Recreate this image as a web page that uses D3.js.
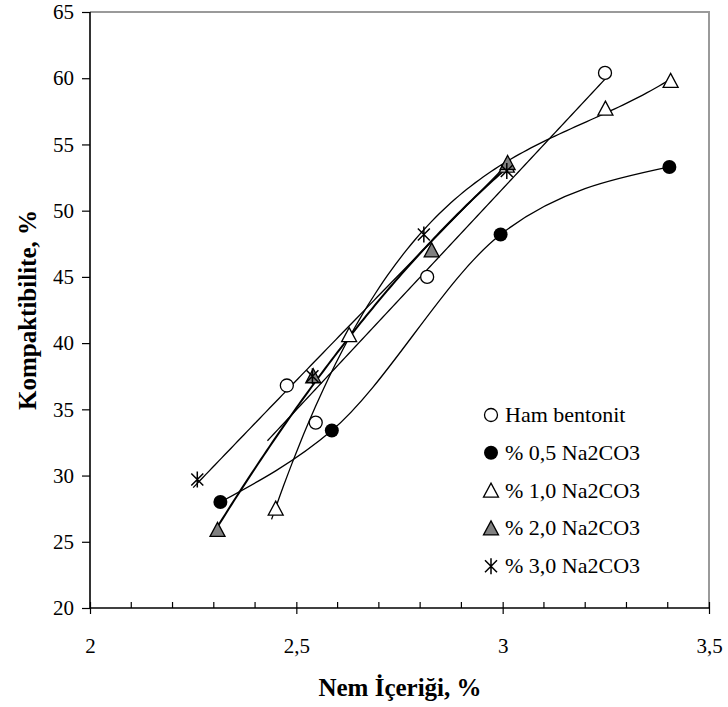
<!DOCTYPE html>
<html lang="tr">
  <head>
    <meta charset="utf-8">
    <title>Kompaktibilite</title>
    <style>
    body { margin: 0; background: #fff; }
    svg text { font-family: "Liberation Serif", "Times New Roman", Times, serif; }
    </style>
    <script src="https://cdn.jsdelivr.net/npm/d3@7"></script>
  </head>
  <body>
    <script>

      // Veri
      var hamX = [2.477, 2.547, 2.817, 3.248];
      var hamY = [36.8, 34.0, 45.0, 60.4];

      var na05X = [2.316, 2.586, 2.995, 3.404];
      var na05Y = [28.0, 33.4, 48.2, 53.3];

      var na10X = [2.450, 2.628, 3.010, 3.249, 3.407];
      var na10Y = [27.5, 40.6, 53.4, 57.7, 59.8];

      var na20X = [2.309, 2.541, 2.828, 3.012];
      var na20Y = [25.9, 37.5, 47.0, 53.6];

      var na30X = [2.260, 2.539, 2.809, 3.010];
      var na30Y = [29.7, 37.5, 48.2, 53.0];

      var seriesNames = ["Ham bentonit", "% 0,5 Na2CO3", "% 1,0 Na2CO3", "% 2,0 Na2CO3", "% 3,0 Na2CO3"];
      // çizgi türü: polinom derecesi (0 = noktalardan geçen yumuşak eğri) ve x aralığı
      var trendDegree = [1, 0, 3, 2, 2];
      var trendFrom = [2.43, 2.316, 2.44, 2.30, 2.25];
      var trendTo = [3.25, 3.404, 3.407, 3.012, 3.02];

      var xTicks = [2, 2.5, 3, 3.5];
      var yTicks = [20, 25, 30, 35, 40, 45, 50, 55, 60, 65];

      var W = 728, H = 707;
      var m = { left: 90, right: 709, top: 12, bottom: 608 };
      var serif = "Liberation Serif, Times New Roman, Times, serif";

      var svg = d3.select("body").append("svg")
          .attr("width", W)
          .attr("height", H);

      var x = d3.scaleLinear().domain([2, 3.5]).range([m.left, m.right]);
      var y = d3.scaleLinear().domain([20, 65]).range([m.bottom, m.top]);

      var fmt = function(d) { return String(d).replace(".", ","); };

      // çerçeve (üst ve sağ gri)
      svg.append("path")
          .attr("d", "M" + m.left + "," + m.top + "H" + m.right + "V" + m.bottom)
          .attr("fill", "none")
          .attr("stroke", "#9a9a9a")
          .attr("stroke-width", 2);

      // y ekseni
      var gy = svg.append("g")
          .attr("transform", "translate(" + m.left + ",0)")
          .call(d3.axisLeft(y).tickValues(yTicks).tickSize(8).tickPadding(8).tickFormat(d3.format("d")));

      // x ekseni: ana ve ara çentikler
      var gx = svg.append("g")
          .attr("transform", "translate(0," + m.bottom + ")")
          .call(d3.axisBottom(x).tickValues(xTicks).tickSize(6).tickPadding(24).tickFormat(fmt));
      gx.selectAll(".tick line").attr("y1", -6);

      var minor = d3.range(2.1, 3.5, 0.1).filter(function(v) {
        return Math.abs(v * 2 - Math.round(v * 2)) > 0.01;
      });
      gx.selectAll("line.minor")
        .data(minor)
        .enter()
        .append("line")
        .attr("class", "minor")
        .attr("x1", function(d) { return x(d); })
        .attr("x2", function(d) { return x(d); })
        .attr("y1", 0)
        .attr("y2", -6)
        .attr("stroke", "#000");

      [gx, gy].forEach(function(g) {
        g.select(".domain").attr("stroke-width", 1.6);
        g.selectAll("line").attr("stroke-width", 1.2);
        g.selectAll(".tick text")
          .attr("font-family", serif)
          .attr("font-size", 21)
          .attr("fill", "#000");
      });
      gy.select(".domain").attr("d", "M0," + m.bottom + "V" + m.top);
      gx.select(".domain").attr("d", "M" + m.left + ",0H" + m.right);

      // eksen başlıkları
      svg.append("text")
          .attr("x", 400)
          .attr("y", 696)
          .attr("text-anchor", "middle")
          .attr("font-family", serif)
          .attr("font-size", 25)
          .attr("font-weight", "bold")
          .text("Nem İçeriği, %");

      svg.append("text")
          .attr("transform", "translate(36,310) rotate(-90)")
          .attr("text-anchor", "middle")
          .attr("font-family", serif)
          .attr("font-size", 25)
          .attr("font-weight", "bold")
          .text("Kompaktibilite, %");

      // en küçük kareler polinom uydurma
      function polyFit(xs, ys, deg) {
        var n = deg + 1, A = [], b = [];
        for (var i = 0; i < n; i++) {
          A.push([]);
          for (var j = 0; j < n; j++) {
            A[i].push(d3.sum(xs, function(v) { return Math.pow(v - 2.7, i + j); }));
          }
          b.push(d3.sum(xs, function(v, k) { return ys[k] * Math.pow(v - 2.7, i); }));
        }
        for (var c = 0; c < n; c++) {
          var p = c;
          for (var r = c + 1; r < n; r++) if (Math.abs(A[r][c]) > Math.abs(A[p][c])) p = r;
          var t = A[c]; A[c] = A[p]; A[p] = t;
          var tb = b[c]; b[c] = b[p]; b[p] = tb;
          for (var r2 = c + 1; r2 < n; r2++) {
            var f = A[r2][c] / A[c][c];
            for (var k = c; k < n; k++) A[r2][k] -= f * A[c][k];
            b[r2] -= f * b[c];
          }
        }
        var coef = new Array(n).fill(0);
        for (var r3 = n - 1; r3 >= 0; r3--) {
          var s = b[r3];
          for (var k2 = r3 + 1; k2 < n; k2++) s -= A[r3][k2] * coef[k2];
          coef[r3] = s / A[r3][r3];
        }
        return function(v) {
          return d3.sum(coef, function(cf, i) { return cf * Math.pow(v - 2.7, i); });
        };
      }

      var allX = [hamX, na05X, na10X, na20X, na30X];
      var allY = [hamY, na05Y, na10Y, na20Y, na30Y];

      var line = d3.line()
          .x(function(d) { return x(d[0]); })
          .y(function(d) { return y(d[1]); });

      allX.forEach(function(xs, i) {
        var pts, gen = line;
        if (trendDegree[i] === 0) {
          pts = xs.map(function(v, k) { return [v, allY[i][k]]; });
          gen = d3.line()
              .x(function(d) { return x(d[0]); })
              .y(function(d) { return y(d[1]); })
              .curve(d3.curveMonotoneX);
        } else {
          var f = polyFit(xs, allY[i], trendDegree[i]);
          pts = d3.range(0, 101).map(function(k) {
            var v = trendFrom[i] + (trendTo[i] - trendFrom[i]) * k / 100;
            return [v, f(v)];
          });
        }
        svg.append("path")
            .datum(pts)
            .attr("d", gen)
            .attr("fill", "none")
            .attr("stroke", "#000")
            .attr("stroke-width", i === 3 ? 2 : 1.3);
      });

      // işaretçiler
      function triPath(s) {
        var h = s * 0.87;
        return "M0," + (-h / 2 - 1) + "L" + (s / 2) + "," + (h / 2) + "L" + (-s / 2) + "," + (h / 2) + "Z";
      }
      function starPath(s) {
        var a = s / 2, d = a * 0.75;
        return "M0," + (-a) + "V" + a + "M" + (-d) + "," + (-d) + "L" + d + "," + d +
               "M" + d + "," + (-d) + "L" + (-d) + "," + d;
      }

      function drawMarker(g, i) {
        if (i === 0) {
          g.append("circle").attr("r", 6.5).attr("fill", "#fff").attr("stroke", "#000").attr("stroke-width", 1.3);
        } else if (i === 1) {
          g.append("circle").attr("r", 7).attr("fill", "#000");
        } else if (i === 2) {
          g.append("path").attr("d", triPath(15)).attr("fill", "#fff").attr("stroke", "#000").attr("stroke-width", 1.3);
        } else if (i === 3) {
          g.append("path").attr("d", triPath(15)).attr("fill", "#808080").attr("stroke", "#000").attr("stroke-width", 1.3);
        } else {
          g.append("path").attr("d", starPath(16)).attr("fill", "none").attr("stroke", "#000").attr("stroke-width", 1.5);
        }
      }

      allX.forEach(function(xs, i) {
        xs.forEach(function(v, k) {
          var g = svg.append("g")
              .attr("transform", "translate(" + x(v) + "," + y(allY[i][k]) + ")");
          drawMarker(g, i);
        });
      });

      // lejant
      var legend = svg.append("g").attr("transform", "translate(491,415)");
      seriesNames.forEach(function(name, i) {
        var row = legend.append("g").attr("transform", "translate(0," + (i * 37.8) + ")");
        drawMarker(row, i);
        row.append("text")
            .attr("x", 14)
            .attr("y", 7)
            .attr("font-family", serif)
            .attr("font-size", 22)
            .text(name);
      });

    </script>
  </body>
</html>
